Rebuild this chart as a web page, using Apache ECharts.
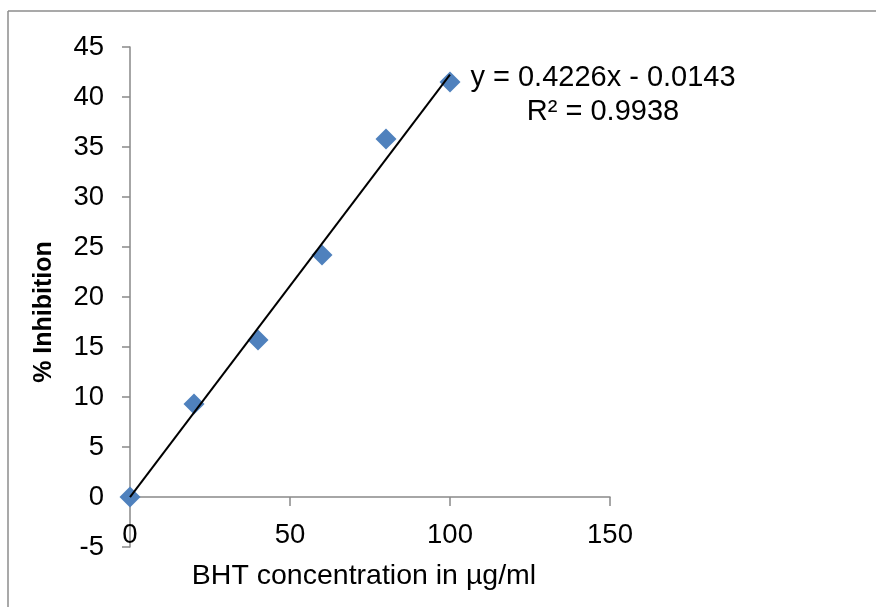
<!DOCTYPE html>
<html>
<head>
<meta charset="utf-8">
<script src="https://cdn.jsdelivr.net/npm/echarts@6/dist/echarts.min.js"></script>
<style>
  html, body { margin: 0; padding: 0; background: #fff; }
  #main { width: 876px; height: 607px; }
</style>
</head>
<body>
<div id="main"></div>
<script>
var unChart = echarts.init(document.getElementById("main"));

// concentrations (µg/ml) and % inhibition
var concentration = [0, 20, 40, 60, 80, 100];
var inhibition = [0, 9.3, 15.7, 24.2, 35.8, 41.5];
// linear trend line end points (y = 0.4226x - 0.0143)
var trendLine = [[0, -0.0143], [100, 42.2457]];
var eqLines = ['y = 0.4226x - 0.0143', 'R² = 0.9938'];

var points = [];
for (var i = 0; i < concentration.length; i++) {
	points.push([concentration[i], inhibition[i]]);
}

var axisColor = '#898989';
var font = '"Liberation Sans", Arial, sans-serif';

var options = {
	animation: false,
	backgroundColor: '#fff',
	grid: {
		left: 130,
		right: 266,
		top: 47,
		bottom: 60,
		outerBoundsMode: 'none'
	},
	xAxis: {
		type: 'value',
		min: 0,
		max: 150,
		interval: 50,
		// x axis crosses the y axis at 0, i.e. 50px above the grid bottom
		offset: -50,
		splitLine: { show: false },
		axisLine: { onZero: false, lineStyle: { color: axisColor, width: 1.5 } },
		axisTick: { show: true, length: 9, lineStyle: { color: axisColor, width: 1.5 } },
		axisLabel: { color: '#000', fontSize: 27.5, fontFamily: font, margin: 24, hideOverlap: false },
		name: 'BHT concentration in µg/ml',
		nameLocation: 'middle',
		nameGap: 65,
		nameTextStyle: { color: '#000', fontSize: 28.5, fontFamily: font, padding: [0, 12, 0, 0] }
	},
	yAxis: {
		type: 'value',
		min: -5,
		max: 45,
		interval: 5,
		splitLine: { show: false },
		axisLine: { onZero: false, lineStyle: { color: axisColor, width: 1.5 } },
		axisTick: { show: true, length: 8, lineStyle: { color: axisColor, width: 1.5 } },
		axisLabel: { color: '#000', fontSize: 27.5, fontFamily: font, margin: 26, hideOverlap: false },
		name: '% Inhibition',
		nameLocation: 'middle',
		nameRotate: 90,
		nameGap: 73,
		nameTextStyle: { color: '#000', fontSize: 25, fontWeight: 'bold', fontFamily: font, padding: [0, 30, 0, 0] }
	},
	series: [
		{
			type: 'line',
			data: trendLine,
			symbol: 'none',
			lineStyle: { color: '#000', width: 2 },
			z: 3
		},
		{
			type: 'scatter',
			data: points,
			symbol: 'diamond',
			symbolSize: [21, 21],
			itemStyle: { color: '#4F81BD', opacity: 1 },
			z: 2
		}
	],
	graphic: [
		{
			type: 'line',
			shape: { x1: 8, y1: 11, x2: 876, y2: 11 },
			style: { stroke: '#8c8c8c', lineWidth: 1.5 }
		},
		{
			type: 'line',
			shape: { x1: 8, y1: 11, x2: 8, y2: 607 },
			style: { stroke: '#8c8c8c', lineWidth: 1.5 }
		},
		{
			type: 'text',
			x: 603,
			y: 95,
			style: {
				text: eqLines.join('\n'),
				fill: '#000',
				font: '29px "Liberation Sans", Arial, sans-serif',
				align: 'center',
				verticalAlign: 'middle',
				lineHeight: 34
			}
		}
	]
};
unChart.setOption(options);
</script>
</body>
</html>
